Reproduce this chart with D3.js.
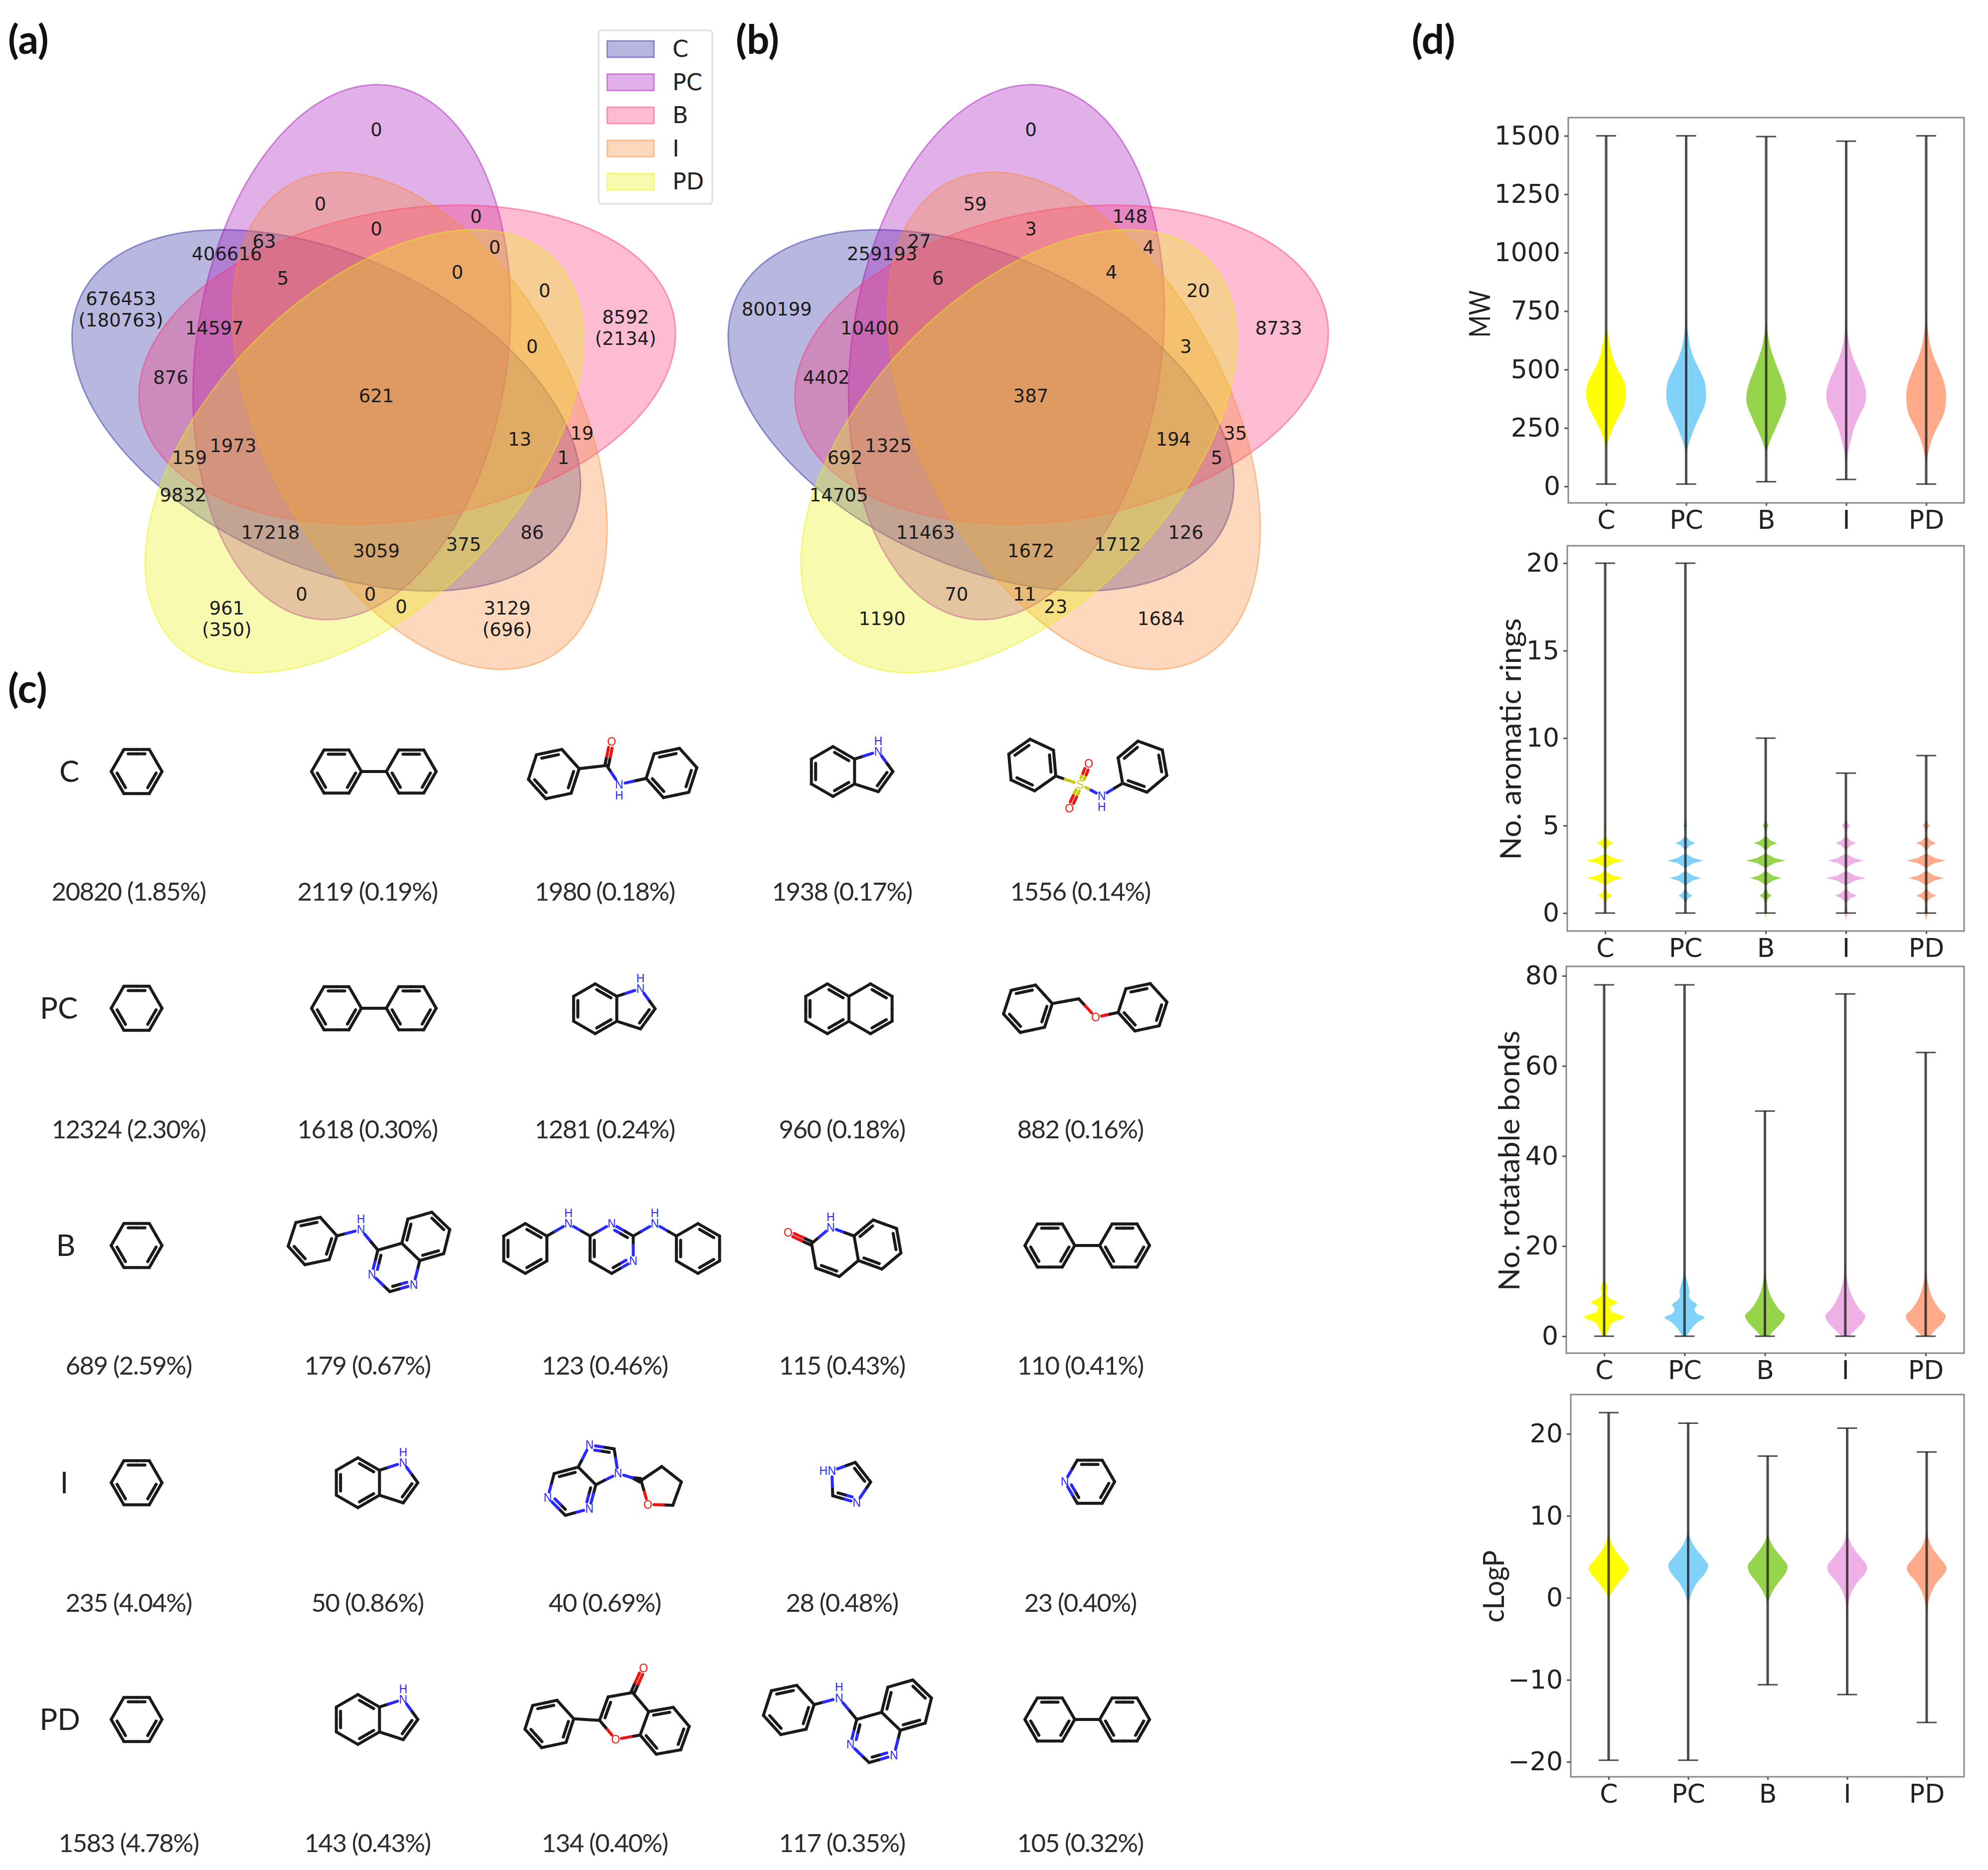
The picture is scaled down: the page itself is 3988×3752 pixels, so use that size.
<!DOCTYPE html>
<html>
<head>
<meta charset="utf-8">
<script src="https://cdn.jsdelivr.net/npm/d3@7"></script>
<style>
  body { margin: 0; background: #fff; }
  svg { display: block; }
  .axis text { font-family: "DejaVu Sans"; font-size: 52px; fill: #222; }
  .axis line { stroke: #555; stroke-width: 3px; }
</style>
</head>
<body>
<div id="chart"></div>
<script>
// ---- data ----
const sets = ["C", "PC", "B", "I", "PD"];
const setColors = ["#25259e", "#a710b9", "#f93477", "#f98934", "#eaf010"];

// pyvenn style ellipses, in venn units
const ellipseCx = [0.428, 0.469, 0.558, 0.578, 0.489];
const ellipseCy = [0.449, 0.543, 0.523, 0.432, 0.383];
const ellipseAngle = [155, 82, 10, 118, 46];

// region anchors in venn units
const regionU = [.51,.42,.67,.51,.70,.33,.27,.36,.64,.78,.10,.25,.91,.76,.18,.51,.74,.84,.28,.21,.81,.20,.34,.76,.51,.65,.39,.50,.55,.27,.72];
const regionV = [.90,.78,.76,.74,.71,.72,.70,.66,.67,.64,.61,.58,.58,.55,.50,.47,.40,.41,.39,.37,.37,.31,.25,.25,.22,.23,.15,.15,.13,.11,.11];
const countsA = ["0","0","0","0","0","63","406616","5","0","0","676453\n(180763)","14597","8592\n(2134)","0","876","621","13","19","1973","159","1","9832","17218","86","3059","375","0","0","0","961\n(350)","3129\n(696)"];
const countsB = ["0","59","148","3","4","27","259193","6","4","20","800199","10400","8733","3","4402","387","194","35","1325","692","5","14705","11463","126","1672","1712","70","11","23","1190","1684"];

const rowLabels = ["C", "PC", "B", "I", "PD"];
const structuresC = ["benzene", "biphenyl", "benzanilide", "indole", "sulfonanilide"];
const structuresPC = ["benzene", "biphenyl", "indole", "naphthalene", "benzylEther"];
const structuresB = ["benzene", "anilinoquinazoline", "dianilinopyrimidine", "quinolone", "biphenyl"];
const structuresI = ["benzene", "indole", "purineThf", "imidazole", "pyridine"];
const structuresPD = ["benzene", "indole", "flavone", "anilinoquinazoline", "biphenyl"];
const captionsC = ["20820 (1.85%)", "2119 (0.19%)", "1980 (0.18%)", "1938 (0.17%)", "1556 (0.14%)"];
const captionsPC = ["12324 (2.30%)", "1618 (0.30%)", "1281 (0.24%)", "960 (0.18%)", "882 (0.16%)"];
const captionsB = ["689 (2.59%)", "179 (0.67%)", "123 (0.46%)", "115 (0.43%)", "110 (0.41%)"];
const captionsI = ["235 (4.04%)", "50 (0.86%)", "40 (0.69%)", "28 (0.48%)", "23 (0.40%)"];
const captionsPD = ["1583 (4.78%)", "143 (0.43%)", "134 (0.40%)", "117 (0.35%)", "105 (0.32%)"];

const violinColors = ["#ffff00", "#80d2fa", "#96d44c", "#efb0e6", "#ffaa88"];

// whisker min / max per set
const mwMin = [10, 10, 20, 30, 10];
const mwMax = [1500, 1500, 1497, 1477, 1500];
const ringsMin = [0, 0, 0, 0, 0];
const ringsMax = [20, 20, 10, 8, 9];
const bondsMin = [0, 0, 0, 0, 0];
const bondsMax = [78, 78, 50, 76, 63];
const logpMin = [-19.8, -19.8, -10.6, -11.8, -15.2];
const logpMax = [22.6, 21.3, 17.3, 20.7, 17.8];

// violin outlines: [value, relative width]
const mwShape = [
  [[167,0],[200,.12],[250,.34],[300,.64],[350,.92],[400,1],[450,.9],[500,.58],[550,.34],[600,.2],[650,.08],[690,0]],
  [[143,0],[200,.2],[250,.42],[300,.68],[350,.94],[395,1],[450,.92],[500,.66],[550,.38],[600,.2],[650,.1],[730,0]],
  [[143,0],[200,.22],[250,.48],[300,.74],[350,.96],[380,1],[430,.9],[500,.6],[550,.38],[600,.2],[650,.09],[705,0]],
  [[95,0],[150,.1],[200,.24],[250,.4],[300,.65],[350,.93],[395,1],[450,.85],[500,.6],[550,.35],[600,.18],[650,.08],[720,0]],
  [[95,0],[150,.12],[200,.28],[250,.54],[300,.84],[350,.98],[385,1],[430,.94],[500,.66],[550,.4],[600,.22],[650,.11],[735,0]]
];
// aromatic rings are integers, so these are spikes at whole numbers
const ringsShape = [
  [[1,.35],[2,.92],[3,.95],[4,.42],[5,.05]],
  [[1,.35],[2,.8],[3,.92],[4,.5],[5,.1]],
  [[0,.03],[1,.3],[2,.78],[3,1],[4,.58],[5,.15]],
  [[0,.1],[1,.55],[2,1],[3,.9],[4,.52],[5,.2]],
  [[0,.1],[1,.5],[2,.9],[3,.98],[4,.5],[5,.18]]
];
const bondsShape = [
  [[0,.08],[1,.18],[2,.28],[3,.42],[4.3,1],[5.5,.35],[6.5,.3],[7.5,.65],[8.5,.25],[9.5,.12],[10.5,.18],[11.5,.12],[12.5,0]],
  [[0,.1],[1,.25],[2,.4],[3,.62],[4.2,1],[5,.62],[6,.5],[7,.62],[8,.35],[9,.22],[10,.25],[11,.2],[13,.08],[15,0]],
  [[0,.2],[1,.4],[2,.62],[3,.82],[4.5,1],[6,.7],[8,.4],[10,.2],[12,.1],[15,0]],
  [[0,.2],[1,.42],[2,.64],[3,.85],[4.5,1],[6,.72],[8,.44],[10,.24],[12,.12],[14,.05],[17,0]],
  [[0,.2],[1,.4],[2,.62],[3,.85],[4.5,1],[6,.7],[8,.4],[10,.22],[12,.1],[15,0]]
];
const logpShape = [
  [[0,0],[1,.25],[2,.55],[3,.9],[3.6,1],[4.5,.75],[5.5,.42],[6.5,.18],[8,0]],
  [[-.8,0],[0,.1],[1,.25],[2,.5],[3,.85],[3.9,1],[5,.72],[6,.38],[7,.15],[8.4,0]],
  [[-.8,0],[0,.1],[1,.3],[2,.58],[3,.9],[3.8,1],[5,.68],[6,.35],[7,.12],[8,0]],
  [[-2,0],[-1,.05],[0,.12],[1,.28],[2,.55],[3,.9],[3.7,1],[5,.66],[6,.34],[7,.12],[8.2,0]],
  [[-2,0],[-1,.05],[0,.14],[1,.3],[2,.55],[3,.9],[3.6,1],[5,.62],[6,.3],[7,.12],[8.2,0]]
];

// ---- page ----
const width = 3988;
const height = 3752;

const svg = d3.select("#chart").append("svg")
  .attr("width", width)
  .attr("height", height)
  .attr("viewBox", `0 0 ${width} ${height}`);
svg.append("rect").attr("width", width).attr("height", height).attr("fill", "#fff");

function panelLetter(text, x, y) {
  svg.append("text").attr("x", x).attr("y", y)
    .attr("font-family", "Lato").attr("font-weight", 700).attr("font-size", 80)
    .attr("fill", "#111").text(text);
}
panelLetter("(a)", 16, 108);
panelLetter("(b)", 1476, 108);
panelLetter("(c)", 16, 1410);
panelLetter("(d)", 2832, 108);

// ---- venn panels ----
function drawVenn(x0, xUnit, counts) {
  const vx = d3.scaleLinear().domain([0, 1]).range([x0, x0 + xUnit]);
  const vy = d3.scaleLinear().domain([0, 1]).range([1381, 139]);
  const g = svg.append("g");
  const outline = d3.line().x(d => vx(d[0])).y(d => vy(d[1])).curve(d3.curveLinearClosed);

  sets.forEach((s, i) => {
    const th = ellipseAngle[i] * Math.PI / 180;
    const pts = d3.range(0, 360, 2).map(deg => {
      const t = deg * Math.PI / 180;
      const a = 0.435 * Math.cos(t), b = 0.25 * Math.sin(t);
      return [ellipseCx[i] + a * Math.cos(th) - b * Math.sin(th),
              ellipseCy[i] + a * Math.sin(th) + b * Math.cos(th)];
    });
    g.append("path").attr("d", outline(pts))
      .attr("fill", setColors[i]).attr("fill-opacity", 0.33)
      .attr("stroke", setColors[i]).attr("stroke-opacity", 0.45).attr("stroke-width", 3);
  });

  counts.forEach((c, i) => {
    const lines = c.split("\n");
    const t = g.append("text")
      .attr("font-family", "DejaVu Sans").attr("font-size", 37)
      .attr("fill", "#1c1c1c").attr("text-anchor", "middle");
    lines.forEach((line, k) => {
      t.append("tspan").attr("x", vx(regionU[i]) - 2)
        .attr("y", vy(regionV[i]) + 10 + (k - (lines.length - 1) / 2) * 43)
        .text(line);
    });
  });
}
drawVenn(119.5, 1250, countsA);
drawVenn(1436, 1243, countsB);

// legend
const legend = svg.append("g");
legend.append("rect").attr("x", 1201).attr("y", 61).attr("width", 228).attr("height", 348)
  .attr("rx", 6).attr("fill", "#fff").attr("stroke", "#ddd").attr("stroke-width", 3);
const legendY = d3.scalePoint().domain(sets).range([98, 364]);
sets.forEach((s, i) => {
  legend.append("rect").attr("x", 1218).attr("y", legendY(s) - 16).attr("width", 94).attr("height", 33)
    .attr("fill", setColors[i]).attr("fill-opacity", 0.33)
    .attr("stroke", setColors[i]).attr("stroke-opacity", 0.45).attr("stroke-width", 3);
  legend.append("text").attr("x", 1349).attr("y", legendY(s) + 16)
    .attr("font-family", "DejaVu Sans").attr("font-size", 46).attr("fill", "#222").text(s);
});

// ---- molecules, rough RDKit look ----
const atomColor = { C: "#1a1a1a", N: "#2a2aff", O: "#f01414", S: "#c9c914" };

function Mol() {
  const atoms = [], bonds = [];
  const m = {
    atoms, bonds,
    atom(x, y, el = "C", h = null) {
      const hit = atoms.findIndex(a => Math.hypot(a.x - x, a.y - y) < 0.2);
      if (hit >= 0) {
        if (el !== "C") atoms[hit].el = el;
        if (h) atoms[hit].h = h;
        return hit;
      }
      atoms.push({ x, y, el, h });
      return atoms.length - 1;
    },
    bond(a, b, order = 1, inner = null, wedge = false) {
      if (bonds.some(o => (o.a === a && o.b === b) || (o.a === b && o.b === a))) return;
      bonds.push({ a, b, order, inner, wedge });
    },
    // polygon with unit bonds, dbl = edges that carry an inner line
    ring(cx, cy, n, a0, dbl = [], het = {}) {
      const r = 0.5 / Math.sin(Math.PI / n);
      const ids = d3.range(n).map(k => {
        const t = (a0 + k * 360 / n) * Math.PI / 180;
        const h = het[k] || "C";
        return m.atom(cx + r * Math.cos(t), cy + r * Math.sin(t), h);
      });
      ids.forEach((id, k) => {
        const next = ids[(k + 1) % n];
        const isDouble = dbl.includes(k);
        const old = bonds.find(o => (o.a === id && o.b === next) || (o.a === next && o.b === id));
        if (old && isDouble) { old.order = 2; old.inner = [cx, cy]; }
        else m.bond(id, next, isDouble ? 2 : 1, isDouble ? [cx, cy] : null);
      });
      return ids;
    }
  };
  return m;
}

const phenyl = [0, 2, 4];
const molecules = {
  benzene: m => m.ring(0, 0, 6, 0, phenyl),
  biphenyl: m => {
    const a = m.ring(-1.5, 0, 6, 0, phenyl), b = m.ring(1.5, 0, 6, 0, phenyl);
    m.bond(a[0], b[3]);
  },
  benzanilide: m => {
    const a = m.ring(-2.27, 0.02, 6, -12, phenyl), b = m.ring(2.27, -0.02, 6, -12, phenyl);
    const c = m.atom(-0.23, -0.31), o = m.atom(-0.04, -1.23, "O"), n = m.atom(0.25, 0.42, "N", "down");
    m.bond(a[0], c); m.bond(c, o, 2); m.bond(c, n); m.bond(n, b[3]);
  },
  indole: m => {
    m.ring(0, 0, 6, 30, phenyl);
    const p = m.ring(1.554, 0, 5, 0, [0]);
    m.atoms[p[4]].el = "N"; m.atoms[p[4]].h = "up";
  },
  sulfonanilide: m => {
    const a = m.ring(-2.1, -0.48, 6, 25, [1, 3, 5]), b = m.ring(2.15, -0.42, 6, 140, [1, 3, 5]);
    const s = m.atom(-0.25, 0.27, "S"), o1 = m.atom(0.08, -0.54, "O"), o2 = m.atom(-0.67, 1.19, "O");
    const n = m.atom(0.58, 0.71, "N", "down");
    m.bond(a[0], s); m.bond(s, o1, 2); m.bond(s, o2, 2); m.bond(s, n); m.bond(n, b[0]);
  },
  naphthalene: m => {
    m.ring(-0.866, 0, 6, 30, phenyl);
    m.ring(0.866, 0, 6, 30, [0, 4]);
  },
  benzylEther: m => {
    const a = m.ring(-2.3, 0.02, 6, -12, phenyl), b = m.ring(2.3, -0.04, 6, -12, phenyl);
    const c = m.atom(-0.26, -0.38), o = m.atom(0.42, 0.36, "O");
    m.bond(a[0], c); m.bond(c, o); m.bond(o, b[3]);
  },
  anilinoquinazoline: m => {
    const p = m.ring(0, 0, 6, -16, [1, 3], { 1: "N", 3: "N" });
    m.ring(1.203, -1.246, 6, 44, phenyl);
    const a = m.ring(-3.34, -1.06, 6, -12, phenyl);
    const n = m.atom(-1.4, -1.52, "N", "up");
    m.bond(a[0], n); m.bond(n, p[4]);
  },
  dianilinopyrimidine: m => {
    const p = m.ring(0, 0, 6, 30, phenyl, { 0: "N", 4: "N" });
    const a = m.ring(-3.464, 0, 6, 30, phenyl), b = m.ring(3.464, 0, 6, 30, phenyl);
    const n1 = m.atom(-1.732, -1, "N", "up"), n2 = m.atom(1.732, -1, "N", "up");
    m.bond(a[5], n1); m.bond(n1, p[3]); m.bond(p[5], n2); m.bond(n2, b[3]);
  },
  quinolone: m => {
    const p = m.ring(0, 0, 6, 20, [1], { 4: "N" });
    m.atoms[p[4]].h = "up";
    m.ring(1.706, -0.3, 6, 20, [1, 3, 5]);
    const o = m.atom(-1.88, -0.78, "O");
    m.bond(p[3], o, 2);
  },
  purineThf: m => {
    m.ring(0, 0, 6, -15, phenyl, { 1: "N", 3: "N" });
    const p = m.ring(1.099, -1.099, 5, 27, [3], { 0: "N", 3: "N" });
    const t = m.ring(3.58, -0.14, 5, -16, [], { 2: "O" });
    m.bond(p[0], t[3], 1, null, true);
  },
  imidazole: m => {
    const p = m.ring(0, 0, 5, -2, [1, 4], { 1: "N", 3: "N" });
    m.atoms[p[3]].h = "left";
  },
  pyridine: m => m.ring(0, 0, 6, 0, phenyl, { 3: "N" }),
  flavone: m => {
    const p = m.ring(0, 0, 6, -10, [3], { 2: "O" });
    m.ring(1.628, 0.592, 6, -10, phenyl);
    const a = m.ring(-3, 0.32, 6, -12, phenyl);
    const o = m.atom(0.78, -1.92, "O");
    m.bond(p[5], o, 2); m.bond(p[3], a[0]);
  }
};

function drawMolecule(name, ox, oy, s) {
  const m = Mol();
  molecules[name](m);
  const g = svg.append("g").attr("transform", `translate(${ox},${oy})`)
    .attr("stroke-width", 6).attr("stroke-linecap", "round").attr("fill", "none");
  const seg = (x1, y1, x2, y2, col) => g.append("line")
    .attr("x1", x1).attr("y1", y1).attr("x2", x2).attr("y2", y2).attr("stroke", col);
  const halves = (A, B, pa, pb) => {
    const mx = (pa[0] + pb[0]) / 2, my = (pa[1] + pb[1]) / 2;
    seg(pa[0], pa[1], mx, my, atomColor[A.el]);
    seg(mx, my, pb[0], pb[1], atomColor[B.el]);
  };
  m.bonds.forEach(b => {
    const A = m.atoms[b.a], B = m.atoms[b.b];
    const len = Math.hypot(B.x - A.x, B.y - A.y);
    const ux = (B.x - A.x) / len, uy = (B.y - A.y) / len;
    const gapA = A.el === "C" ? 0 : 0.24, gapB = B.el === "C" ? 0 : 0.24;
    const ax = A.x + ux * gapA, ay = A.y + uy * gapA;
    const bx = B.x - ux * gapB, by = B.y - uy * gapB;
    if (b.wedge) {
      g.append("path").attr("stroke", "none").attr("fill", atomColor.C)
        .attr("d", d3.line()([[ax * s, ay * s], [(B.x - uy * .14) * s, (B.y + ux * .14) * s], [(B.x + uy * .14) * s, (B.y - ux * .14) * s]]) + "Z");
      seg(ax * s, ay * s, (ax + bx) / 2 * s, (ay + by) / 2 * s, atomColor[A.el]);
      return;
    }
    if (b.order === 2 && !b.inner) {
      const nx = -uy * .07, ny = ux * .07;
      halves(A, B, [(ax + nx) * s, (ay + ny) * s], [(bx + nx) * s, (by + ny) * s]);
      halves(A, B, [(ax - nx) * s, (ay - ny) * s], [(bx - nx) * s, (by - ny) * s]);
      return;
    }
    halves(A, B, [ax * s, ay * s], [bx * s, by * s]);
    if (b.order === 2) {
      let nx = -uy, ny = ux;
      const mx = (A.x + B.x) / 2, my = (A.y + B.y) / 2;
      if (nx * (b.inner[0] - mx) + ny * (b.inner[1] - my) < 0) { nx = -nx; ny = -ny; }
      const o = 0.17, cut = 0.17;
      const p = [(A.x + nx * o + ux * Math.max(cut, gapA)) * s, (A.y + ny * o + uy * Math.max(cut, gapA)) * s];
      const q = [(B.x + nx * o - ux * Math.max(cut, gapB)) * s, (B.y + ny * o - uy * Math.max(cut, gapB)) * s];
      halves(A, B, p, q);
    }
  });
  const label = (x, y, t, col) => g.append("text").attr("x", x * s).attr("y", y * s + 8)
    .attr("text-anchor", "middle").attr("stroke", "none").attr("fill", col)
    .attr("font-family", "Liberation Sans").attr("font-size", 23).text(t);
  m.atoms.filter(a => a.el !== "C").forEach(a => {
    label(a.x, a.y, a.el, atomColor[a.el]);
    if (a.h === "up") label(a.x, a.y - 0.42, "H", atomColor[a.el]);
    if (a.h === "down") label(a.x, a.y + 0.42, "H", atomColor[a.el]);
    if (a.h === "left") label(a.x - 0.34, a.y, "H", atomColor[a.el]);
  });
}

// ---- panel c grid ----
const colCaption = [258, 737, 1213, 1689, 2167];
const rowCaption = [1790, 2267, 2741, 3217, 3699];
const rowLabelX = [139, 118, 132, 129, 120];
const rowLabelY = [1548, 2023, 2499, 2975, 3450];
const structureRows = [structuresC, structuresPC, structuresB, structuresI, structuresPD];
const captionRows = [captionsC, captionsPC, captionsB, captionsI, captionsPD];
// anchor of each drawing: [x, y, bond length]
const anchors = [
  [[274,1548,51],[750,1548,50],[1229,1552,52],[1671,1548,50],[2180,1560,52]],
  [[274,2023,51],[750,2023,50],[1194,2024,50],[1703,2024,50],[2177,2023,50]],
  [[274,2499,51],[794,2543,50],[1227,2505,50],[1675,2512,50],[2181,2499,50]],
  [[274,2975,51],[718,2975,50],[1147,2992,50],[1704,2975,50],[2186,2973,50]],
  [[274,3450,51],[718,3450,50],[1252,3443,50],[1756,3486,52],[2181,3450,50]]
];

rowLabels.forEach((label, r) => {
  svg.append("text").attr("x", rowLabelX[r]).attr("y", rowLabelY[r] + 21)
    .attr("text-anchor", "middle").attr("font-family", "Lato").attr("font-size", 60)
    .attr("fill", "#222").text(label);
  structureRows[r].forEach((name, c) => {
    const a = anchors[r][c];
    drawMolecule(name, a[0], a[1], a[2]);
    svg.append("text").attr("x", colCaption[c]).attr("y", rowCaption[r] + 17)
      .attr("text-anchor", "middle").attr("font-family", "Lato").attr("font-size", 51)
      .attr("letter-spacing", -1.6).attr("fill", "#2c2c2c").text(captionRows[r][c]);
  });
});

// ---- panel d violins ----
const widthScale = d3.scaleLinear().domain([0, 1]).range([0, 40]);

function drawViolins(cfg) {
  const x = d3.scalePoint().domain(sets).range(cfg.xRange);
  const y = d3.scaleLinear().domain(cfg.yDomain).range(cfg.yRange);
  const g = svg.append("g");

  g.append("rect")
    .attr("x", cfg.frame[0]).attr("y", cfg.frame[1])
    .attr("width", cfg.frame[2] - cfg.frame[0]).attr("height", cfg.frame[3] - cfg.frame[1])
    .attr("fill", "none").attr("stroke", "#888").attr("stroke-width", 3);

  sets.forEach((s, i) => {
    const cx = x(s);
    const area = d3.area()
      .y(d => y(d[0]))
      .x0(d => cx - widthScale(d[1]))
      .x1(d => cx + widthScale(d[1]))
      .curve(cfg.spikes ? d3.curveLinear : d3.curveMonotoneY);
    // spikes pinch in towards their tips
    const shape = cfg.spikes
      ? cfg.shape[i].flatMap(d => [[d[0] - 0.42, 0], [d[0] - 0.14, d[1] * 0.45], d, [d[0] + 0.14, d[1] * 0.45], [d[0] + 0.42, 0]])
      : cfg.shape[i];
    g.append("path").attr("d", area(shape)).attr("fill", violinColors[i]);

    const stem = g.append("g").attr("stroke", "#222").attr("stroke-opacity", 0.8);
    stem.append("line").attr("x1", cx).attr("x2", cx)
      .attr("y1", y(cfg.min[i])).attr("y2", y(cfg.max[i])).attr("stroke-width", 5);
    [cfg.min[i], cfg.max[i]].forEach(v => {
      stem.append("line").attr("x1", cx - 20).attr("x2", cx + 20)
        .attr("y1", y(v)).attr("y2", y(v)).attr("stroke-width", 3);
    });
  });

  g.append("g").attr("class", "axis")
    .attr("transform", `translate(${cfg.frame[0]},0)`)
    .call(d3.axisLeft(y).tickValues(cfg.ticks).tickFormat(d3.format("d")).tickSize(8).tickPadding(8))
    .call(a => a.select(".domain").remove());
  g.append("g").attr("class", "axis")
    .attr("transform", `translate(0,${cfg.frame[3]})`)
    .call(d3.axisBottom(x).tickSize(6).tickPadding(9))
    .call(a => a.select(".domain").remove());

  g.append("text")
    .attr("transform", `translate(${cfg.titleX},${cfg.titleY}) rotate(-90)`)
    .attr("text-anchor", "middle").attr("dominant-baseline", "central")
    .attr("font-family", "Lato").attr("font-size", 58).attr("fill", "#222")
    .attr("textLength", cfg.titleLen).attr("lengthAdjust", "spacingAndGlyphs")
    .text(cfg.title);
}

drawViolins({ title: "MW", titleX: 2966, titleY: 630, titleLen: 95,
  frame: [3146, 236, 3940, 1009], xRange: [3222, 3864],
  yDomain: [0, 1500], yRange: [976, 272.5], ticks: [0, 250, 500, 750, 1000, 1250, 1500],
  min: mwMin, max: mwMax, shape: mwShape });
drawViolins({ title: "No. aromatic rings", titleX: 3028, titleY: 1483, titleLen: 485,
  frame: [3144, 1095, 3940, 1868], xRange: [3220, 3864],
  yDomain: [0, 20], yRange: [1832, 1130], ticks: [0, 5, 10, 15, 20],
  min: ringsMin, max: ringsMax, shape: ringsShape, spikes: true });
drawViolins({ title: "No. rotatable bonds", titleX: 3025, titleY: 2329, titleLen: 522,
  frame: [3142, 1939, 3940, 2715], xRange: [3218, 3863],
  yDomain: [0, 80], yRange: [2681, 1958], ticks: [0, 20, 40, 60, 80],
  min: bondsMin, max: bondsMax, shape: bondsShape });
drawViolins({ title: "cLogP", titleX: 2994, titleY: 3183, titleLen: 145,
  frame: [3151, 2798, 3940, 3565], xRange: [3227, 3865],
  yDomain: [-20, 20], yRange: [3535, 2877], ticks: [-20, -10, 0, 10, 20],
  min: logpMin, max: logpMax, shape: logpShape });
</script>
</body>
</html>
